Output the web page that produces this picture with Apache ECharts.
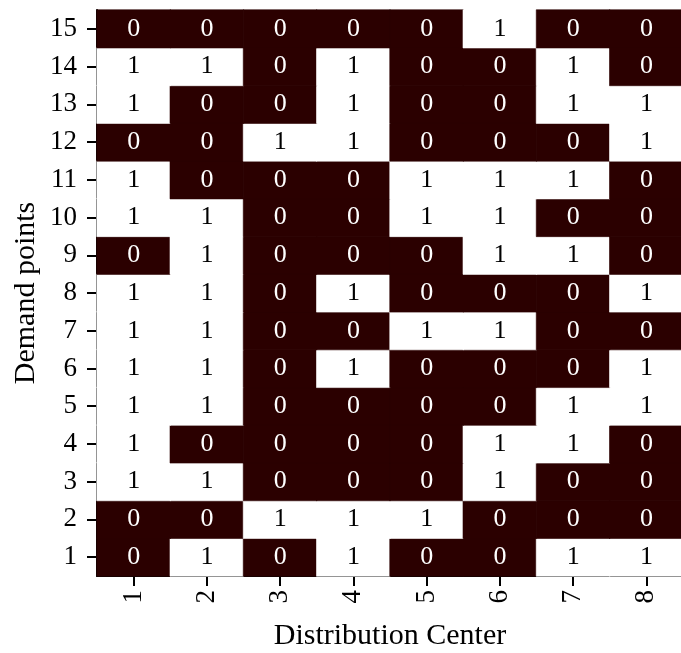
<!DOCTYPE html>
<html><head><meta charset="utf-8">
<script src="https://cdn.jsdelivr.net/npm/echarts@6/dist/echarts.min.js"></script>
<style>html,body{margin:0;padding:0;background:#fff}#c{width:681px;height:653px}</style>
</head><body><div id="c"></div>
<script>
const centers = ['1','2','3','4','5','6','7','8'];
const demandPoints = ['1','2','3','4','5','6','7','8','9','10','11','12','13','14','15'];
// rows indexed by demand point 1..15, values per distribution center 1..8
const row1  = [0,1,0,1,0,0,1,1];
const row2  = [0,0,1,1,1,0,0,0];
const row3  = [1,1,0,0,0,1,0,0];
const row4  = [1,0,0,0,0,1,1,0];
const row5  = [1,1,0,0,0,0,1,1];
const row6  = [1,1,0,1,0,0,0,1];
const row7  = [1,1,0,0,1,1,0,0];
const row8  = [1,1,0,1,0,0,0,1];
const row9  = [0,1,0,0,0,1,1,0];
const row10 = [1,1,0,0,1,1,0,0];
const row11 = [1,0,0,0,1,1,1,0];
const row12 = [0,0,1,1,0,0,0,1];
const row13 = [1,0,0,1,0,0,1,1];
const row14 = [1,1,0,1,0,0,1,0];
const row15 = [0,0,0,0,0,1,0,0];
const rows = [row1,row2,row3,row4,row5,row6,row7,row8,row9,row10,row11,row12,row13,row14,row15];

const DARK = '#2b0000';
const LIGHT = '#ffffff';
const data = [];
rows.forEach((r, yi) => r.forEach((v, xi) => {
  data.push({value:[xi, yi, v],
    itemStyle:{borderColor: v ? LIGHT : DARK, borderWidth:0.6},
    label:{color: v ? '#000' : '#fff'}});
}));

const FONT = 'Liberation Serif';
const chart = echarts.init(document.getElementById('c'));
chart.setOption({
  animation:false,
  grid:{left:97, top:10, width:586, height:566, outerBoundsMode:'none', containLabel:false},
  xAxis:{type:'category', data:centers, name:'Distribution Center', nameLocation:'middle', nameGap:45, nameMoveOverlap:false,
    nameTextStyle:{fontFamily:FONT, fontSize:30, color:'#000'},
    axisLine:{lineStyle:{color:'#000', width:2}},
    axisTick:{show:true, alignWithLabel:true, length:10, lineStyle:{color:'#000', width:2}},
    axisLabel:{rotate:90, fontFamily:FONT, fontSize:27, color:'#000', margin:14},
    splitArea:{show:false}},
  yAxis:{type:'category', data:demandPoints, name:'Demand points', nameLocation:'middle', nameGap:56, nameRotate:90, nameMoveOverlap:false,
    nameTextStyle:{fontFamily:FONT, fontSize:30, color:'#000'},
    axisLine:{lineStyle:{color:'#000', width:2}},
    axisTick:{show:true, alignWithLabel:true, length:10, lineStyle:{color:'#000', width:2}},
    axisLabel:{fontFamily:FONT, fontSize:27, color:'#000', margin:20}},
  visualMap:{show:false, type:'piecewise', dimension:2, pieces:[{value:0, color:DARK},{value:1, color:LIGHT}]},
  series:[{type:'heatmap', data:data,
    label:{show:true, fontFamily:FONT, fontSize:26},
    emphasis:{disabled:true}}]
});
</script></body></html>
